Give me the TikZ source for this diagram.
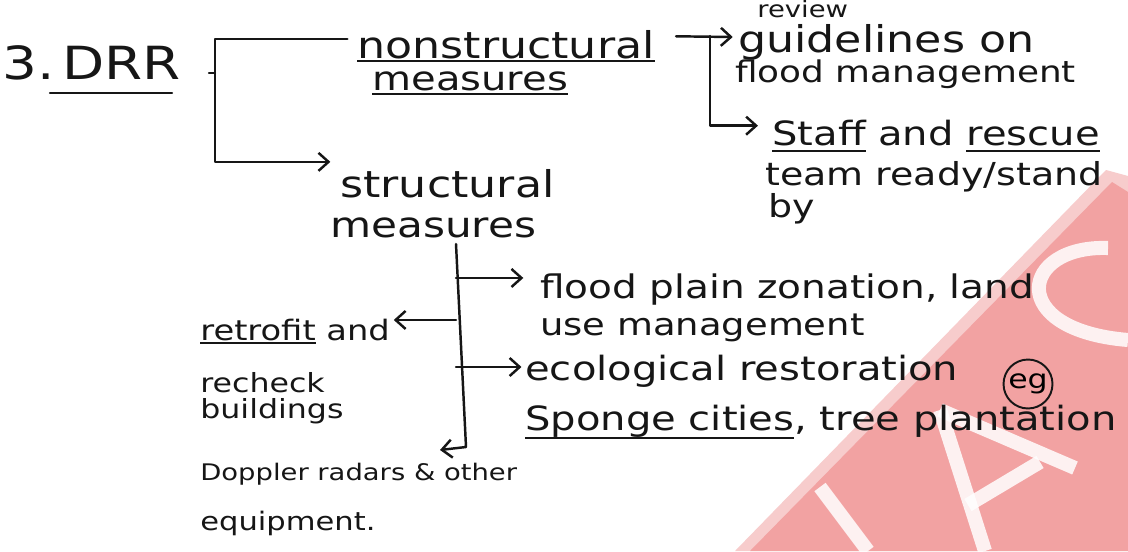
\documentclass[tikz,border=0pt]{standalone}
\usepackage{fontspec}
\usepackage{xcolor}
\usepackage{tikz}
\usetikzlibrary{arrows.meta, positioning}
\newfontfamily\handfont[FakeStretch=1.2]{DejaVu Sans}
\definecolor{inkBlack}{RGB}{22,22,22}
\definecolor{markPink}{RGB}{242,162,162}
\definecolor{markEdge}{RGB}{247,204,204}
% underline drawn like a pen stroke under a word
\newcommand\penline[2][4pt]{\setbox0\hbox{#2}\rlap{\rule[-#1]{\wd0}{1.1pt}}\box0\relax}
\tikzset{
  hw/.style={
    anchor=base west, inner sep=0pt,
    text=inkBlack, font=\handfont\fontsize{#1}{#1}\selectfont
  },
  hw/.default=18,
  pen/.style={
    draw=inkBlack, line width=1.4pt,
    line cap=round, line join=round
  },
  penarrow/.style={
    pen, -{Straight Barb[length=2mm,width=3.6mm]}
  },
  markfill/.style={fill=markPink, draw=none},
  markstroke/.style={draw=white, opacity=0.85, line width=8pt}
}

\begin{document}
\begin{tikzpicture}[x=0.02cm, y=-0.02cm]

  \fill[white] (0,0) rectangle (1128,551);
  \useasboundingbox (0,0) rectangle (1128,551);

  % watermark in the corner
  \fill[markEdge] (735,551) -- (1106,170) -- (1128,176) -- (1128,551) -- cycle;
  \fill[markfill] (750,551) -- (1112,182) -- (1128,192) -- (1128,551) -- cycle;
  \draw[markstroke] (820,487) -- (868,551);
  \draw[markstroke] (940,410) -- (985,551);
  \draw[markstroke] (940,410) -- (1075,468);
  \draw[markstroke] (968,505) -- (1040,462);
  \draw[markstroke] (1108,248) .. controls (1020,245) and (1005,330) .. (1128,340);

  % heading
  \node[hw=26] (num) at (2,79) {3.};
  \node[hw=26] (drr) at (62,79) {DRR};
  \draw[pen] (50,93) -- (172,93);

  % first split
  \node[hw=21] (nonstr)  at (357,58) {\penline[2.5pt]{nonstructural}};
  \node[hw=19] (nonstrb) at (372,90) {\penline[3pt]{measures}};
  \node[hw=21] (str)     at (340,197) {structural};
  \node[hw=20] (strb)    at (330,237) {measures};

  % nonstructural side
  \node[hw=13] (review) at (757,17) {review};
  \node[hw=21] (guide)  at (738,52) {guidelines on};
  \node[hw=17] (guideb) at (735,82) {flood management};
  \node[hw=19] (staff)  at (772,145) {\penline[4pt]{Staff} and \penline[4pt]{rescue}};
  \node[hw=18] (staffb) at (765,185) {team ready/stand};
  \node[hw=18] (staffc) at (768,217) {by};

  % structural side
  \node[hw=18.5] (flood)  at (540,298) {flood plain zonation, land};
  \node[hw=17.5] (floodb) at (540,335) {use management};
  \node[hw=19]   (eco)    at (525,380) {ecological restoration};
  \node[draw=inkBlack, circle, line width=1.1pt, inner sep=1pt,
        font=\handfont\fontsize{15}{15}\selectfont] (egnote) at (1028,384) {eg};
  \node[hw=19]   (sponge) at (525,430) {\penline[5pt]{Sponge cities}, tree plantation};
  \node[hw=16]   (retro)  at (200,340) {\penline[2.5pt]{retrofit} and};
  \node[hw=15]   (retrob) at (200,392) {recheck};
  \node[hw=15]   (retroc) at (200,418) {buildings};
  \node[hw=13]   (dopp)   at (200,480) {Doppler radars \& other};
  \node[hw=14.5] (doppb)  at (200,530) {equipment.};

  % DRR bracket
  \coordinate (drrjoint) at (215,73);
  \coordinate (nsin)  at ([yshift=10.8pt]nonstr.base west);
  \coordinate (strin) at ([yshift=20pt]str.base west);
  \draw[pen] (drrjoint) -- ++(-6,0);
  \draw[pen, shorten >=5.5pt] (drrjoint) |- (nsin);
  \draw[penarrow, shorten >=5.5pt] (drrjoint) |- (strin);

  % nonstructural arrows
  \coordinate (nsjoint) at (710,36);
  \draw[penarrow, shorten <=12pt, shorten >=3pt]
    ([yshift=12.5pt]nonstr.base east) -- ([yshift=8.5pt]guide.base west);
  \draw[penarrow, shorten >=8pt] (nsjoint) |- ([yshift=11pt]staff.base west);

  % structural spine
  \coordinate (sstop) at (456,244);
  \coordinate (ssbot) at (466,447);
  \coordinate (dtip)  at (440,450);
  \coordinate (floodin) at ([yshift=11.4pt]flood.base west);
  \coordinate (retroin) at ([yshift=11.4pt]retro.base east);
  \coordinate (ecoin)   at ([yshift=7.4pt]eco.base west);
  \draw[penarrow] (sstop) -- (ssbot) -- (dtip);
  \draw[penarrow, shorten >=9.5pt] (sstop |- floodin) -- (floodin);
  \draw[penarrow, shorten >=2pt] (sstop |- retroin) -- (retroin);
  \draw[penarrow, shorten >=2pt] (sstop |- ecoin) -- (ecoin);

\end{tikzpicture}
\end{document}
